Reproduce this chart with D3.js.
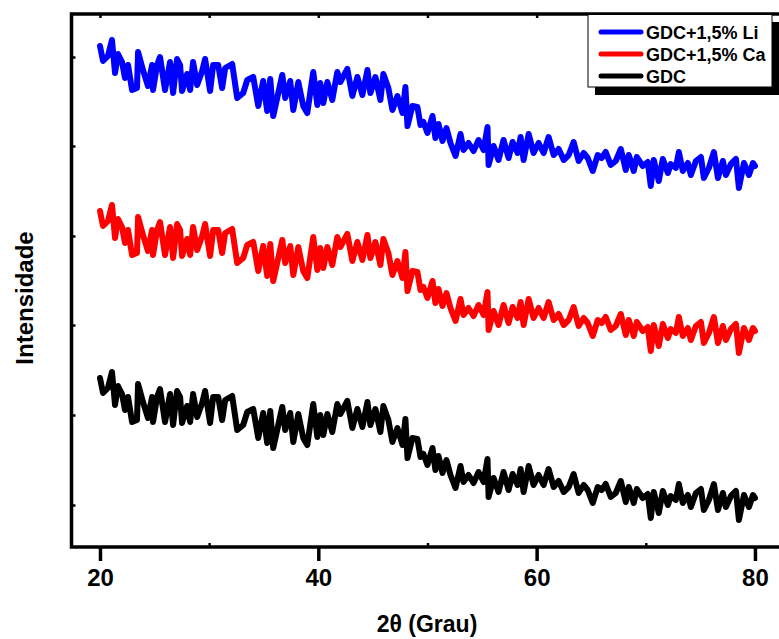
<!DOCTYPE html>
<html>
<head>
<meta charset="utf-8">
<script src="https://cdn.jsdelivr.net/npm/d3@7"></script>
<style>
  body { margin: 0; background: #fff; }
  svg { display: block; font-family: Arial, "Liberation Sans", sans-serif; font-weight: bold; }
  .line { fill: none; stroke-width: 6; stroke-linejoin: round; stroke-linecap: round; }
</style>
</head>
<body>
<svg id="chart" width="779" height="639"></svg>
<script>
"use strict";

// 2theta positions (deg)
let twoTheta = [20.00, 20.28, 20.73, 21.10, 21.38, 21.65, 22.02, 22.29, 22.57, 22.94, 23.39, 23.49, 23.94, 24.40, 24.77, 24.86, 25.23, 25.50, 25.96, 26.42,
  26.70, 27.06, 27.34, 27.52, 27.98, 28.26, 28.53, 28.90, 29.36, 29.63, 30.09, 30.37, 30.83, 31.19, 31.47, 32.11, 32.57, 33.12, 33.49, 34.04,
  34.50, 34.95, 35.32, 35.60, 35.87, 36.70, 36.97, 37.43, 37.71, 38.17, 38.62, 38.99, 39.54, 39.91, 40.18, 40.46, 40.83, 41.28, 41.74, 42.02,
  42.66, 43.12, 43.58, 44.04, 44.50, 44.77, 45.23, 45.69, 45.96, 46.42, 46.79, 47.25, 47.71, 47.98, 48.17, 48.62, 49.08, 49.36, 49.63, 50.00,
  50.46, 50.73, 51.01, 51.38, 51.74, 52.11, 52.57, 53.03, 53.30, 53.76, 54.22, 54.68, 55.14, 55.50, 55.60, 56.06, 56.51, 56.97, 57.43, 57.80,
  58.26, 58.53, 58.81, 59.27, 59.72, 60.18, 60.64, 61.10, 61.56, 62.02, 62.48, 62.94, 63.39, 63.85, 64.31, 64.68, 65.14, 65.60, 65.96, 66.33,
  66.79, 67.25, 67.71, 68.17, 68.44, 68.90, 69.17, 69.72, 70.18, 70.46, 70.73, 71.19, 71.56, 72.02, 72.29, 72.75, 73.03, 73.39, 73.85, 74.13,
  74.59, 75.05, 75.32, 75.78, 76.24, 76.61, 77.06, 77.34, 77.80, 78.26, 78.53, 78.99, 79.45, 79.82, 80.00];

// intensities (a.u., stacked)
let gdcLi = [554, 539, 544, 560, 527, 546, 538, 522, 535, 510, 512, 548, 530, 514, 535, 510, 535, 543, 510, 538,
  507, 541, 535, 509, 526, 510, 538, 515, 529, 541, 509, 535, 535, 512, 532, 536, 502, 507, 520, 523,
  494, 519, 489, 521, 484, 525, 502, 519, 490, 518, 494, 487, 528, 495, 517, 497, 518, 500, 528, 518,
  531, 504, 523, 505, 530, 507, 523, 500, 526, 512, 490, 504, 487, 513, 474, 494, 493, 475, 478, 467,
  484, 462, 476, 459, 472, 457, 444, 466, 450, 457, 449, 460, 450, 473, 435, 454, 440, 460, 442, 458,
  447, 463, 440, 466, 447, 457, 447, 463, 445, 451, 440, 445, 458, 439, 447, 442, 429, 445, 442, 448,
  435, 439, 451, 430, 445, 429, 443, 434, 438, 414, 440, 419, 441, 427, 436, 432, 448, 429, 437, 425,
  439, 443, 422, 432, 448, 422, 439, 425, 436, 441, 412, 437, 425, 437, 434];

let gdcCa = [389, 374, 379, 395, 362, 381, 373, 357, 370, 345, 347, 383, 365, 349, 370, 345, 370, 378, 345, 373,
  342, 376, 370, 344, 361, 345, 373, 350, 364, 376, 344, 370, 370, 347, 367, 371, 337, 342, 355, 358,
  329, 354, 324, 356, 319, 360, 337, 354, 325, 353, 329, 322, 363, 330, 352, 332, 353, 335, 363, 353,
  366, 339, 358, 340, 365, 342, 358, 335, 361, 347, 325, 339, 322, 348, 309, 329, 328, 310, 313, 302,
  319, 297, 311, 294, 307, 292, 279, 301, 285, 292, 284, 295, 285, 308, 270, 289, 275, 295, 277, 293,
  282, 298, 275, 301, 282, 292, 282, 298, 280, 286, 275, 280, 293, 274, 282, 277, 264, 280, 277, 283,
  270, 274, 286, 265, 280, 264, 278, 269, 273, 249, 275, 254, 276, 262, 271, 267, 283, 264, 272, 260,
  274, 278, 257, 267, 283, 257, 274, 260, 271, 276, 247, 272, 260, 272, 269];

let gdc = [222, 207, 212, 228, 195, 214, 206, 190, 203, 178, 180, 216, 198, 182, 203, 178, 203, 211, 178, 206,
  175, 209, 203, 177, 194, 178, 206, 183, 197, 209, 177, 203, 203, 180, 200, 204, 170, 175, 188, 191,
  162, 187, 157, 189, 152, 193, 170, 187, 158, 186, 162, 155, 196, 163, 185, 165, 186, 168, 196, 186,
  199, 172, 191, 173, 198, 175, 191, 168, 194, 180, 158, 172, 155, 181, 142, 162, 161, 143, 146, 135,
  152, 130, 144, 127, 140, 125, 112, 134, 118, 125, 117, 128, 118, 141, 103, 122, 108, 128, 110, 126,
  115, 131, 108, 134, 115, 125, 115, 131, 113, 119, 108, 113, 126, 107, 115, 110, 97, 113, 110, 116,
  103, 107, 119, 98, 113, 97, 111, 102, 106, 82, 108, 87, 109, 95, 104, 100, 116, 97, 105, 93,
  107, 111, 90, 100, 116, 90, 107, 93, 104, 109, 80, 105, 93, 105, 102];

let seriesNames = ["GDC+1,5% Li", "GDC+1,5% Ca", "GDC"];
let seriesColors = ["#0000ff", "#ff0000", "#000000"];
let xMajorTicks = [20, 40, 60, 80];
let xMinorTicks = [30, 50, 70];
let xTopTicks = [20, 30, 40, 50, 60, 70, 80];
let yTicks = [95, 185, 275, 364, 454, 543];

let svg = d3.select("#chart");
let plotLeft = 71.5, plotTop = 14, plotBottom = 547;

let x = d3.scaleLinear()
          .domain([17.3, 83])
          .range([plotLeft - 1, 787.7]);
let y = d3.scaleLinear()
          .domain([53, 587])
          .range([plotBottom, plotTop - 1]);

// curves
let line = d3.line()
             .x((d, i) => x(twoTheta[i]))
             .y((d) => y(d));

[gdc, gdcCa, gdcLi].forEach((s, i) =>
{
    svg.append("path")
       .datum(s)
       .attr("class", "line")
       .attr("stroke", seriesColors[2 - i])
       .attr("d", line);
});

// axes
function tidy(g)
{
    g.select(".domain").remove();
    g.selectAll(".tick line").attr("stroke", "#000").attr("stroke-width", 2.5);
    g.selectAll(".tick text").attr("font-size", 24).attr("font-weight", "bold").attr("fill", "#000");
}

svg.append("g")
   .attr("transform", "translate(0," + plotBottom + ")")
   .call(d3.axisBottom(x).tickValues(xMajorTicks).tickSize(14).tickPadding(8).tickFormat(d3.format("d")))
   .call(tidy)
   .selectAll(".tick line").attr("stroke-width", 3.5);

svg.append("g")
   .attr("transform", "translate(0," + plotBottom + ")")
   .call(d3.axisBottom(x).tickValues(xMinorTicks).tickSize(-4).tickFormat(""))
   .call(tidy);

svg.append("g")
   .attr("transform", "translate(0," + plotTop + ")")
   .call(d3.axisTop(x).tickValues(xTopTicks).tickSize(-4).tickFormat(""))
   .call(tidy);

svg.append("g")
   .attr("transform", "translate(" + plotLeft + ",0)")
   .call(d3.axisLeft(y).tickValues(yTicks).tickSize(-4).tickFormat(""))
   .call(tidy);

// frame
svg.append("rect")
   .attr("x", plotLeft)
   .attr("y", plotTop)
   .attr("width", 760)
   .attr("height", plotBottom - plotTop)
   .attr("fill", "none")
   .attr("stroke", "#000")
   .attr("stroke-width", 3.5);

// titles
svg.append("text")
   .attr("x", 427)
   .attr("y", 632)
   .attr("text-anchor", "middle")
   .attr("font-size", 23)
   .text("2θ (Grau)");

svg.append("text")
   .attr("transform", "translate(33,298) rotate(-90)")
   .attr("text-anchor", "middle")
   .attr("font-size", 24)
   .text("Intensidade");

// legend with drop shadow
let legend = svg.append("g");
legend.append("rect")
      .attr("x", 595).attr("y", 22).attr("width", 190).attr("height", 73)
      .attr("fill", "#000");
legend.append("rect")
      .attr("x", 588).attr("y", 14.5).attr("width", 184).attr("height", 72.5)
      .attr("fill", "#fff").attr("stroke", "#000").attr("stroke-width", 1);

seriesNames.forEach((name, i) =>
{
    let ly = 32 + i * 22;
    legend.append("line")
          .attr("x1", 601).attr("x2", 641).attr("y1", ly).attr("y2", ly)
          .attr("stroke", seriesColors[i]).attr("stroke-width", 5).attr("stroke-linecap", "round");
    legend.append("text")
          .attr("x", 646).attr("y", ly + 6.5)
          .attr("font-size", 18)
          .text(name);
});
</script>
</body>
</html>
